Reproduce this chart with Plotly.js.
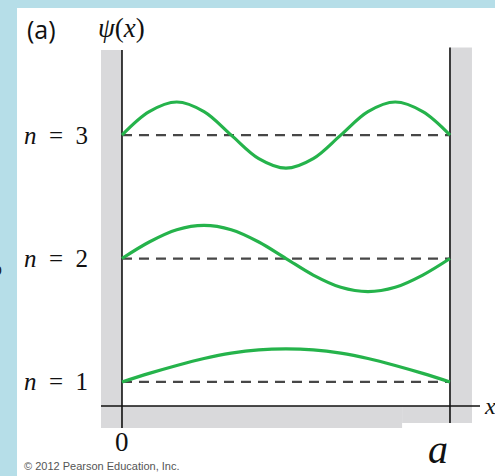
<!DOCTYPE html>
<html>
<head>
<meta charset="utf-8">
<script src="https://cdn.plot.ly/plotly-3.0.1.min.js"></script>
<style>
  html, body { margin: 0; padding: 0; background: #ffffff; }
  #chart { width: 495px; height: 476px; }
</style>
</head>
<body>
<div id="chart"></div>
<script>
// Position across the well, as a fraction of the width a
const xPos = [0, 0.083, 0.167, 0.25, 0.333, 0.417, 0.5, 0.583, 0.667, 0.75, 0.833, 0.917, 1];

// Wavefunction values (normalised to the peak height) for each state
const psi1 = [0, 0.26, 0.50, 0.71, 0.87, 0.97, 1.00, 0.97, 0.87, 0.71, 0.50, 0.26, 0];
const psi2 = [0, 0.50, 0.87, 1.00, 0.87, 0.50, 0, -0.50, -0.87, -1.00, -0.87, -0.50, 0];
const psi3 = [0, 0.71, 1.00, 0.71, 0, -0.71, -1.00, -0.71, 0, 0.71, 1.00, 0.71, 0];

// Quantum numbers / baseline levels and their labels
const levels = [1, 2, 3];
const levelLabels = ['<i>n</i>\u2002=\u20021', '<i>n</i>\u2002=\u20022', '<i>n</i>\u2002=\u20023'];
const states = [psi1, psi2, psi3];

// Edge tick labels on the position axis
const xTickVals = [0, 1];
const xTickText = ['0', '<i>a</i>'];

// Drawing constants
const AMP = 0.268;          // peak height of each curve in level units
const GREEN = '#25b34b';
const WALL = '#d9d9db';
const BLUE = '#b6dee8';
const XR = [-0.064, 1.0915];
const YR = [0.627, 3.730];
const AXIS_Y = 0.805;

const traces = [];

// dashed baselines
levels.forEach(function (n) {
  traces.push({
    x: [xTickVals[0], xTickVals[1]], y: [n, n],
    mode: 'lines', hoverinfo: 'skip', showlegend: false,
    line: { color: '#474747', width: 2.2, dash: '10px,7px' }
  });
});

// wavefunctions sitting on their baselines
states.forEach(function (psi, i) {
  traces.push({
    x: xPos,
    y: psi.map(function (v) { return levels[i] + AMP * v; }),
    mode: 'lines', hoverinfo: 'skip', showlegend: false,
    line: { color: GREEN, width: 3.2, shape: 'spline', smoothing: 1 }
  });
});

const shapes = [
  // page frame strips
  { type: 'rect', xref: 'paper', yref: 'paper', x0: -0.30, x1: -0.2216, y0: -0.2, y1: 1.2,
    fillcolor: BLUE, line: { width: 0 }, layer: 'below' },
  { type: 'rect', xref: 'paper', yref: 'paper', x0: -0.30, x1: 1.1, y0: 1.0966, y1: 1.2,
    fillcolor: BLUE, line: { width: 0 }, layer: 'below' },
  // infinite walls
  { type: 'rect', xref: 'x', yref: 'y', x0: XR[0], x1: 0, y0: YR[0], y1: 3.69,
    fillcolor: WALL, line: { width: 0 }, layer: 'below' },
  { type: 'rect', xref: 'x', yref: 'y', x0: 1, x1: 1.067, y0: 0.667, y1: 3.71,
    fillcolor: WALL, line: { width: 0 }, layer: 'below' },
  // floor band under the axis
  { type: 'rect', xref: 'x', yref: 'y', x0: XR[0], x1: 0.854, y0: YR[0], y1: AXIS_Y,
    fillcolor: WALL, line: { width: 0 }, layer: 'below' },
  { type: 'rect', xref: 'x', yref: 'y', x0: 0.854, x1: 1.067, y0: 0.667, y1: AXIS_Y,
    fillcolor: WALL, line: { width: 0 }, layer: 'below' },
  // axes
  { type: 'line', xref: 'x', yref: 'y', x0: XR[0], x1: XR[1], y0: AXIS_Y, y1: AXIS_Y,
    line: { color: '#111', width: 1.6 }, layer: 'below' },
  { type: 'line', xref: 'x', yref: 'y', x0: 0, x1: 0, y0: YR[0], y1: 3.69,
    line: { color: '#111', width: 1.6 }, layer: 'below' },
  { type: 'line', xref: 'x', yref: 'y', x0: 1, x1: 1, y0: 0.667, y1: 3.71,
    line: { color: '#111', width: 1.6 }, layer: 'below' }
];

const serif = 'Liberation Serif, Times New Roman, serif';

const annotations = [
  { text: '(a)', xref: 'paper', yref: 'paper', x: -0.1583, y: 1.0418,
    font: { family: 'Open Sans, sans-serif', size: 25, color: '#111' } },
  { text: '<i>ψ</i>(<i>x</i>)', xref: 'paper', yref: 'paper', x: 0.0554, y: 1.0444,
    font: { family: serif, size: 27, color: '#111' } },
  { text: '<i>x</i>', xref: 'paper', yref: 'y', x: 1.027, y: AXIS_Y,
    font: { family: serif, size: 24, color: '#111' } },
  { text: xTickText[0], xref: 'x', yref: 'paper', x: xTickVals[0], y: -0.037,
    font: { family: serif, size: 27, color: '#111' } },
  { text: xTickText[1], xref: 'x', yref: 'paper', x: 0.962, y: -0.055,
    font: { family: serif, size: 40, color: '#111' } },
  { text: '© 2012 Pearson Education, Inc.', xref: 'paper', yref: 'paper', x: -0.2084, y: -0.0992,
    xanchor: 'left', font: { family: 'Liberation Sans, Arial, sans-serif', size: 11, color: '#555' } },
  { text: 'o', xref: 'paper', yref: 'paper', x: -0.2744, y: 0.415,
    font: { family: 'Liberation Sans, Arial, sans-serif', size: 16, color: '#222' } }
];

levels.forEach(function (n, i) {
  annotations.push({
    text: levelLabels[i], xref: 'paper', yref: 'y', x: -0.1187, y: n,
    font: { family: serif, size: 25, color: '#111' }
  });
});

annotations.forEach(function (a) {
  a.showarrow = false;
  if (!a.xanchor) a.xanchor = 'center';
  a.yanchor = 'middle';
});

const layout = {
  width: 495, height: 476,
  margin: { l: 101, r: 15, t: 45, b: 48, pad: 0 },
  paper_bgcolor: '#ffffff',
  plot_bgcolor: 'rgba(0,0,0,0)',
  xaxis: { range: XR, visible: false, fixedrange: true },
  yaxis: { range: YR, visible: false, fixedrange: true },
  shapes: shapes,
  annotations: annotations,
  showlegend: false
};

Plotly.newPlot('chart', traces, layout, { staticPlot: true, displayModeBar: false });
</script>
</body>
</html>
